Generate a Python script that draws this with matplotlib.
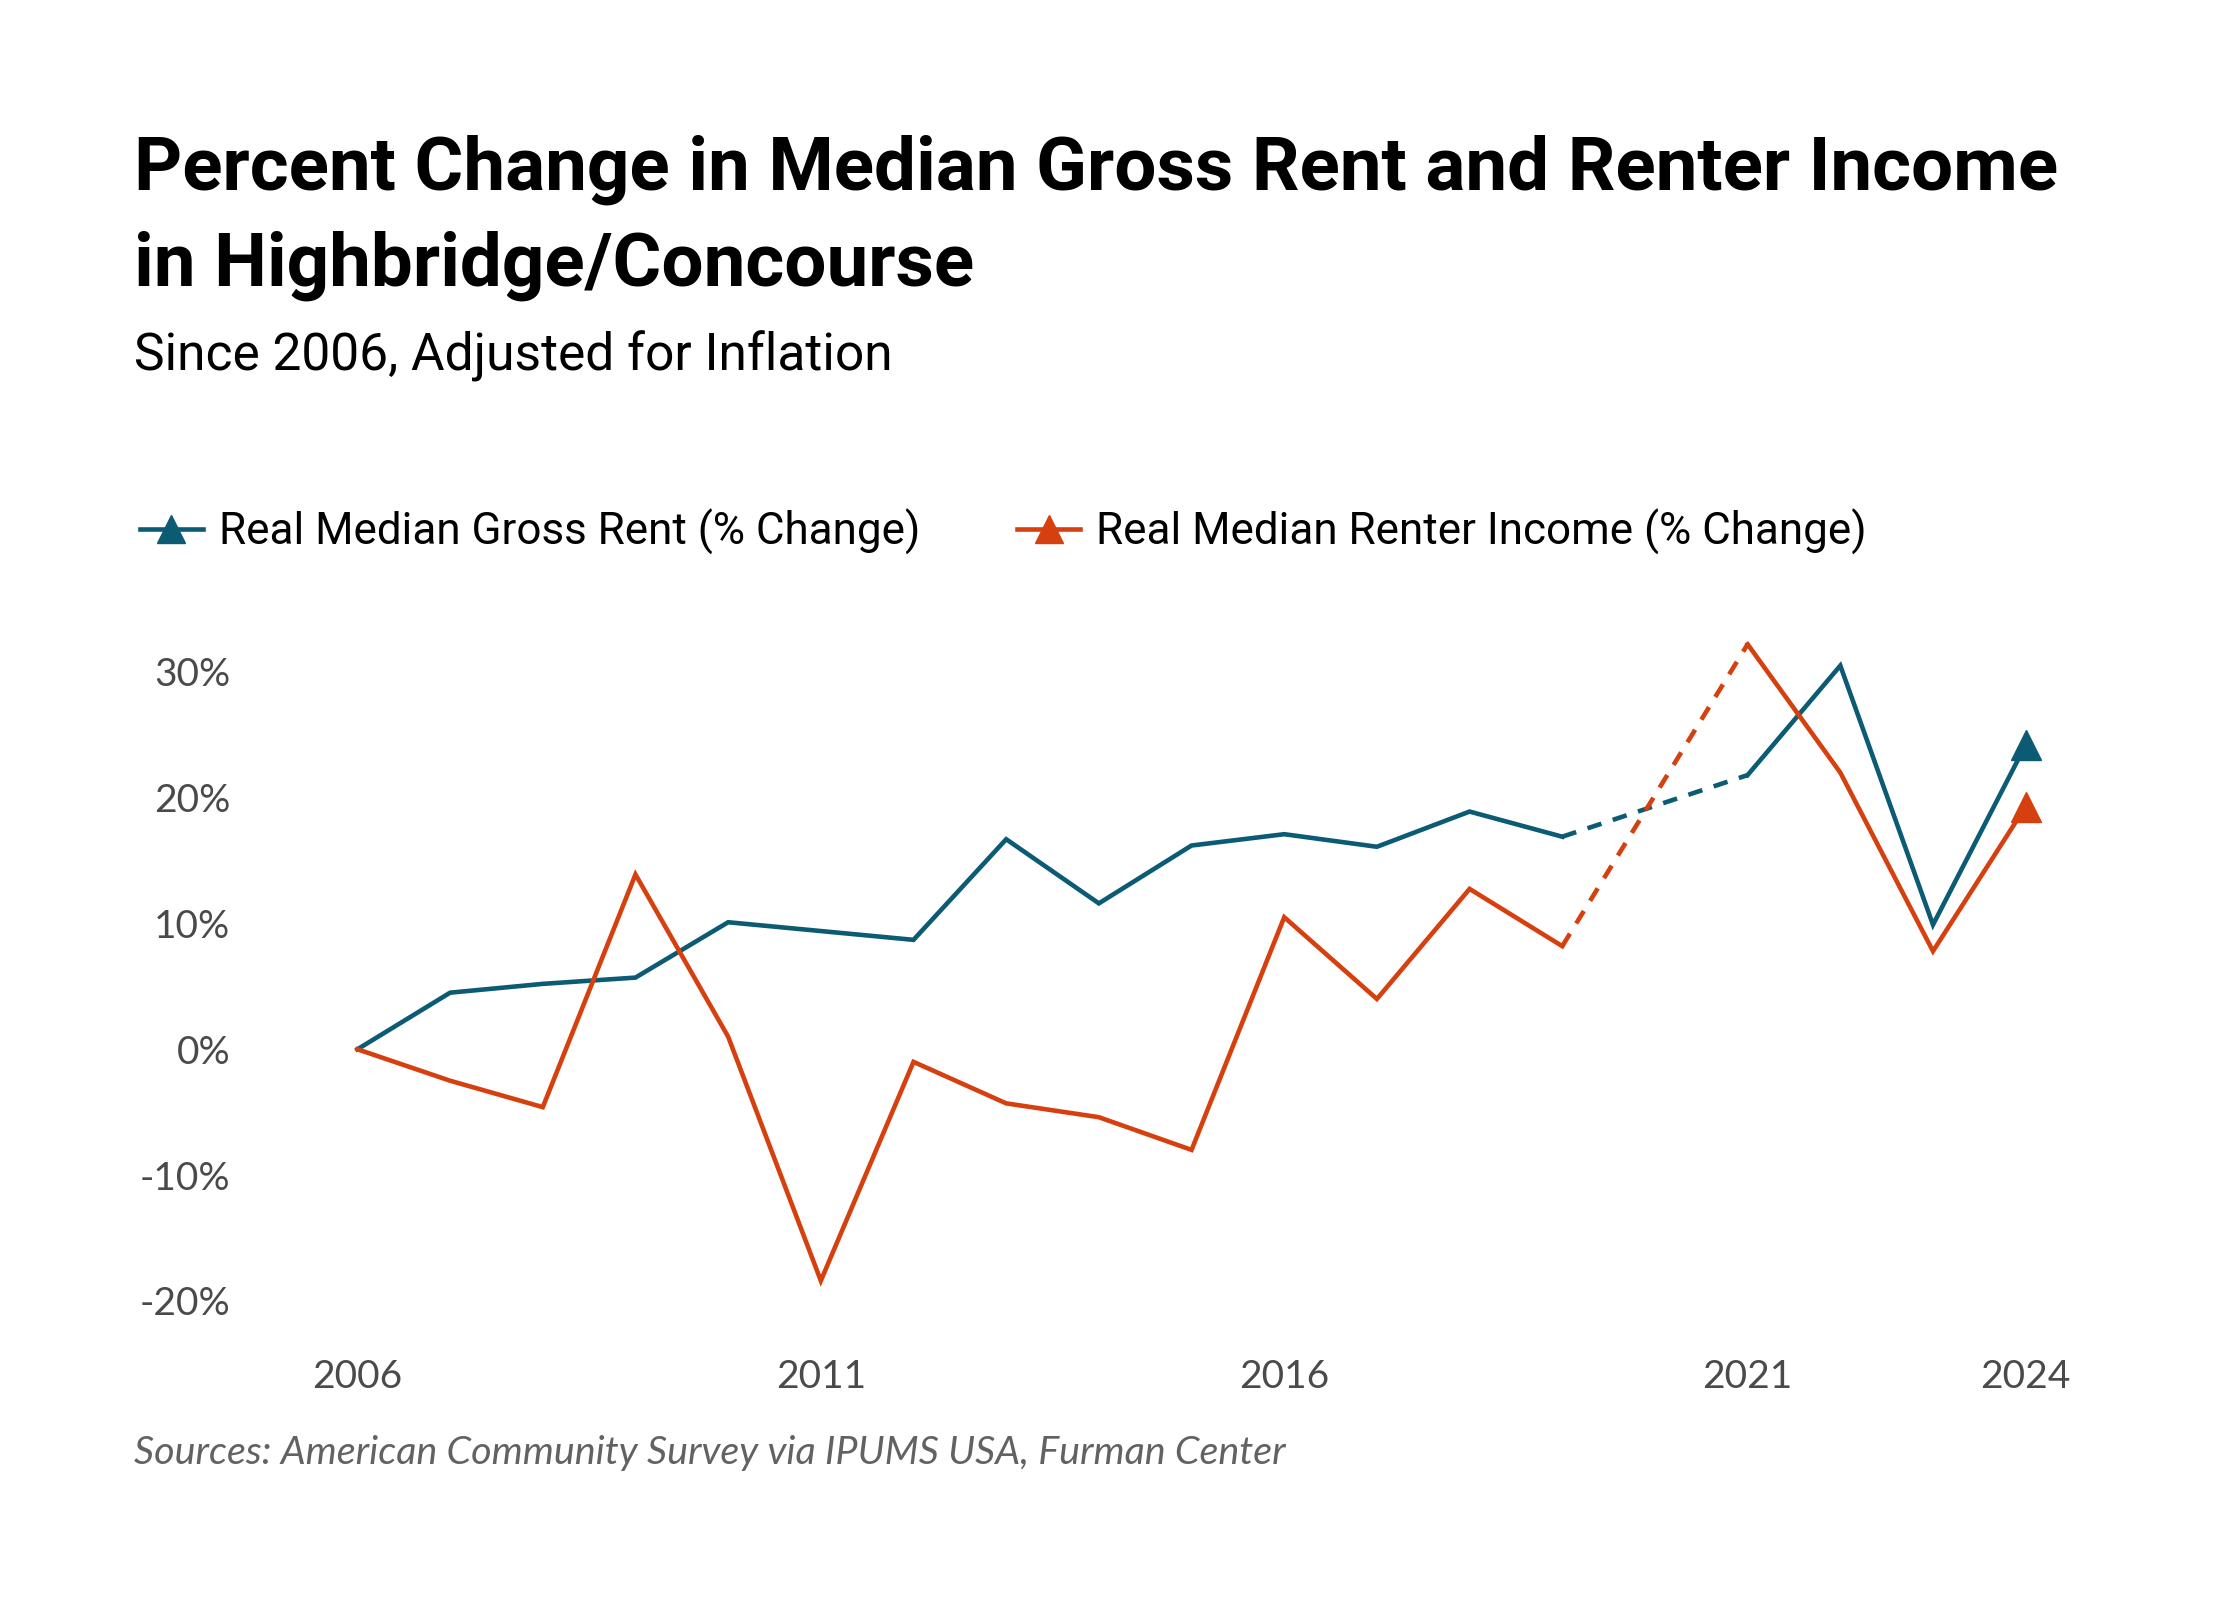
import matplotlib
matplotlib.use("Agg")
import matplotlib.pyplot as plt
from matplotlib.lines import Line2D

# Data (2020 has no ACS release)
years_a = [2006, 2007, 2008, 2009, 2010, 2011, 2012, 2013, 2014, 2015, 2016, 2017, 2018, 2019]
years_b = [2021, 2022, 2023, 2024]
rent_a = [0.0, 4.5, 5.2, 5.7, 10.1, 9.4, 8.7, 16.7, 11.6, 16.2, 17.1, 16.1, 18.9, 16.9]
rent_b = [21.8, 30.5, 9.9, 24.2]
income_a = [0.0, -2.5, -4.6, 13.9, 1.0, -18.4, -1.0, -4.3, -5.4, -8.0, 10.5, 4.0, 12.75, 8.2]
income_b = [32.2, 22.0, 7.8, 19.3]

x_ticks = [2006, 2011, 2016, 2021, 2024]
y_ticks = [-20, -10, 0, 10, 20, 30]

c_rent = "#0b5b74"
c_inc = "#d6400f"
c_tick = "#4a4a4a"

W, H = 2240, 1600
fig = plt.figure(figsize=(W / 100, H / 100), dpi=100)
fig.patch.set_facecolor("white")


def fx(px):
    return px / W


def fy(py):
    return 1 - py / H


ax = fig.add_axes([fx(311.1), fy(1326.0), fx(2072.0) - fx(311.1), fy(634.2) - fy(1326.0)])
ax.set_xlim(2005.5, 2024.5)
ax.set_ylim(-22, 33)

lw = 3.3
dash = (0, (3.2, 2.6))
for ya, yb, col in [(rent_a, rent_b, c_rent), (income_a, income_b, c_inc)]:
    ax.plot(years_a, ya, color=col, lw=lw, solid_joinstyle="miter")
    ax.plot([years_a[-1], years_b[0]], [ya[-1], yb[0]], color=col, lw=lw, linestyle=dash)
    ax.plot(years_b, yb, color=col, lw=lw, solid_joinstyle="miter")
    ax.plot(years_b[-1], yb[-1], marker="^", ms=21, color=col, lw=0)

for s in ax.spines.values():
    s.set_visible(False)
ax.set_xticks(x_ticks)
ax.set_xticklabels([str(y) for y in x_ticks])
ax.set_yticks(y_ticks)
ax.set_yticklabels([f"{y}%" for y in y_ticks])
ax.tick_params(length=0, labelsize=28, colors=c_tick)
ax.tick_params(axis="y", pad=58)
ax.tick_params(axis="x", pad=24)
for lab in ax.get_xticklabels() + ax.get_yticklabels():
    lab.set_family("Lato")

renderer = fig.canvas.get_renderer()


def fit(t, target):
    # scale font size so the text matches the reference width in pixels
    w = t.get_window_extent(renderer).width
    t.set_fontsize(t.get_fontsize() * target / w)


t1 = fig.text(fx(134), fy(190), "Percent Change in Median Gross Rent and Renter Income",
              fontsize=48, fontweight="bold", family="Roboto", va="baseline", color="black")
fit(t1, 1924)
t2 = fig.text(fx(134), fy(286), "in Highbridge/Concourse",
              fontsize=t1.get_fontsize(), fontweight="bold", family="Roboto", va="baseline", color="black")
t3 = fig.text(fx(134), fy(370), "Since 2006, Adjusted for Inflation",
              fontsize=30, family="Roboto", va="baseline", color="black")
fit(t3, 758)
t4 = fig.text(fx(134), fy(1464), "Sources: American Community Survey via IPUMS USA, Furman Center",
              fontsize=24, family="Lato", fontstyle="italic",
              va="baseline", color="#626262")
fit(t4, 1152)

handles = [
    Line2D([], [], color=c_rent, lw=lw, marker="^", ms=20, markevery=[1]),
    Line2D([], [], color=c_inc, lw=lw, marker="^", ms=20, markevery=[1]),
]
for h in handles:
    h.set_xdata([0, 0.5, 1])
leg = fig.legend(handles, ["Real Median Gross Rent (% Change)", "Real Median Renter Income (% Change)"],
                 loc="center left", bbox_to_anchor=(fx(140), fy(532)), ncol=2, frameon=False,
                 prop={"family": "Roboto", "size": 31.7}, handlelength=1.43, handletextpad=0.36,
                 columnspacing=2.2, borderaxespad=0, borderpad=0)

fig.savefig("out.png", dpi=100)
